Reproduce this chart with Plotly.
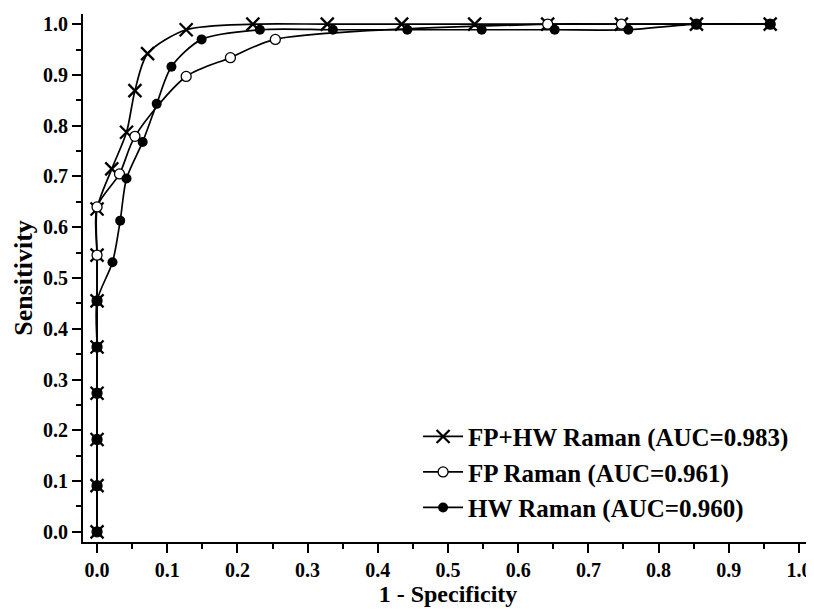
import plotly.graph_objects as go

# FP+HW Raman
fpr_combo = [0, 0, 0, 0, 0, 0, 0, 0, 0.021, 0.042, 0.054, 0.072, 0.127, 0.222, 0.328, 0.434, 0.538, 0.642, 0.747, 0.854, 0.959]
tpr_combo = [0, 0.091, 0.182, 0.273, 0.364, 0.455, 0.545, 0.636, 0.715, 0.787, 0.869, 0.942, 0.989, 1.0, 1.0, 1.0, 1.0, 1.0, 1.0, 1.0, 1.0]

# FP Raman
fpr_fp = [0, 0, 0, 0, 0, 0, 0, 0, 0.032, 0.054, 0.127, 0.190, 0.254, 0.642, 0.747, 0.854, 0.959]
tpr_fp = [0, 0.091, 0.182, 0.273, 0.364, 0.455, 0.545, 0.640, 0.705, 0.779, 0.897, 0.934, 0.970, 1.0, 1.0, 1.0, 1.0]

# HW Raman
fpr_hw = [0, 0, 0, 0, 0, 0, 0.022, 0.033, 0.042, 0.065, 0.085, 0.106, 0.149, 0.232, 0.336, 0.442, 0.548, 0.652, 0.757, 0.854, 0.959]
tpr_hw = [0, 0.091, 0.182, 0.273, 0.364, 0.455, 0.531, 0.613, 0.696, 0.768, 0.843, 0.916, 0.970, 0.989, 0.989, 0.989, 0.989, 0.989, 0.989, 1.0, 1.0]

names = ["FP+HW Raman (AUC=0.983)", "FP Raman (AUC=0.961)", "HW Raman (AUC=0.960)"]
x_ticks = [0.0, 0.1, 0.2, 0.3, 0.4, 0.5, 0.6, 0.7, 0.8, 0.9, 1.0]
y_ticks = [0.0, 0.1, 0.2, 0.3, 0.4, 0.5, 0.6, 0.7, 0.8, 0.9, 1.0]

FONT = "Liberation Serif"

fig = go.Figure()
fig.add_trace(go.Scatter(
    x=fpr_combo, y=tpr_combo, name=names[0], mode="lines+markers",
    line=dict(color="black", width=1.7, shape="spline", smoothing=0.8),
    marker=dict(symbol="x-thin", size=13, color="black", line=dict(color="black", width=2.3)),
    legendrank=1,
))
fig.add_trace(go.Scatter(
    x=fpr_fp, y=tpr_fp, name=names[1], mode="lines+markers",
    line=dict(color="black", width=1.7, shape="spline", smoothing=0.8),
    marker=dict(symbol="circle", size=10, color="white", line=dict(color="black", width=1.3)),
    legendrank=2,
))
fig.add_trace(go.Scatter(
    x=fpr_hw, y=tpr_hw, name=names[2], mode="lines+markers",
    line=dict(color="black", width=1.7, shape="spline", smoothing=0.8),
    marker=dict(symbol="circle", size=10, color="black", line=dict(color="black", width=0)),
    legendrank=3,
))

axis_common = dict(
    showline=True, linecolor="black", linewidth=2,
    ticks="outside", ticklen=9, tickwidth=2, tickcolor="black",
    showgrid=False, zeroline=False, mirror=False,
    tickfont=dict(family=FONT, size=20, color="black", weight="bold"),
    minor=dict(ticks="outside", ticklen=5, tickwidth=2, tickcolor="black", dtick=0.05, showgrid=False),
)

fig.update_xaxes(
    range=[-0.02, 1.02], tickvals=x_ticks, ticktext=[f"{v:.1f}" for v in x_ticks],
    title=dict(text="1 - Specificity", font=dict(family=FONT, size=24, color="black", weight="bold"), standoff=2),
    **axis_common,
)
fig.update_yaxes(
    range=[-0.02, 1.02], tickvals=y_ticks, ticktext=[f"{v:.1f}" for v in y_ticks],
    title=dict(text="Sensitivity", font=dict(family=FONT, size=26, color="black", weight="bold"), standoff=3),
    **axis_common,
)

fig.update_layout(
    width=806, height=601,
    margin=dict(l=75, r=1, t=6, b=67),
    plot_bgcolor="white", paper_bgcolor="white",
    showlegend=True,
    legend=dict(
        x=0.459, y=0.243, xanchor="left", yanchor="top",
        font=dict(family=FONT, size=25, color="black", weight="bold"),
        bgcolor="rgba(0,0,0,0)", borderwidth=0,
        itemwidth=40, tracegroupgap=0,
    ),
)

fig.write_html("out.html")
